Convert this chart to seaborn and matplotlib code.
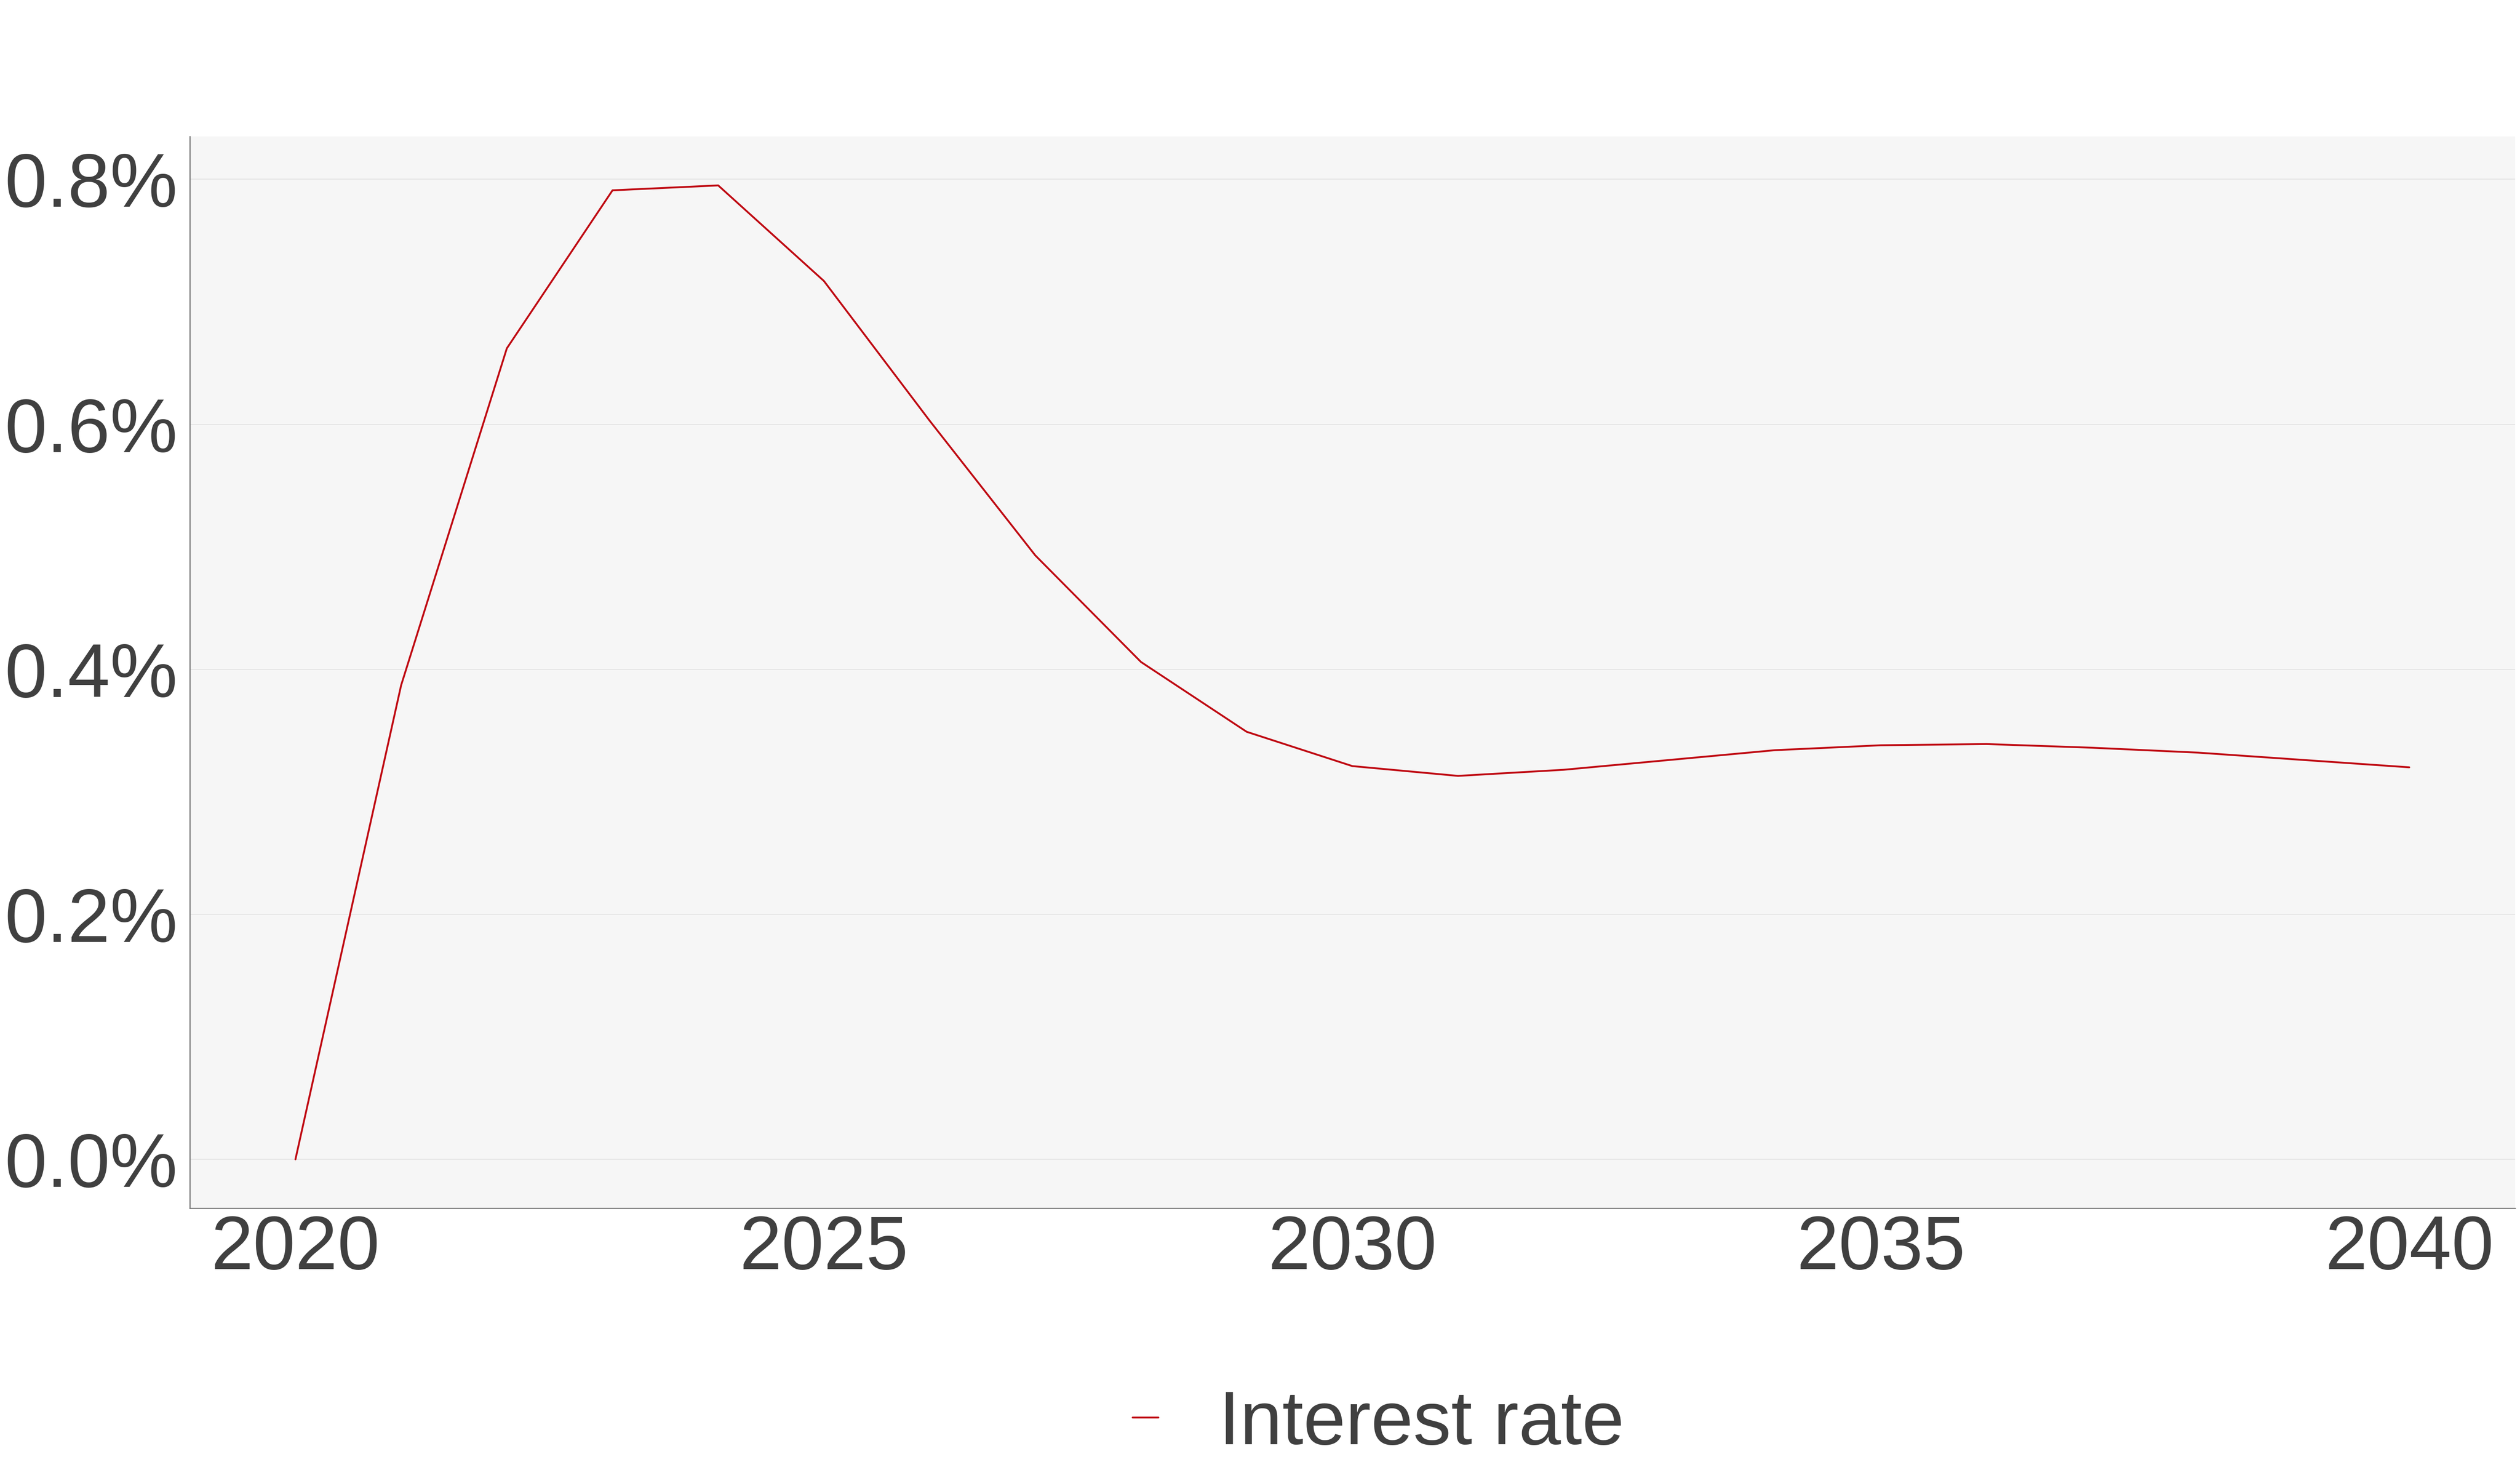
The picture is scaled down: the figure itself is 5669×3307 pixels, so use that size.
import matplotlib
matplotlib.use("Agg")
import matplotlib.pyplot as plt
import matplotlib.ticker as mticker
import seaborn as sns
import pandas as pd

years = list(range(2020, 2041))
interest_rate = [0.0, 0.387, 0.662, 0.791, 0.795, 0.717, 0.603, 0.493, 0.406, 0.349,
                 0.321, 0.313, 0.318, 0.326, 0.334, 0.338, 0.339, 0.336, 0.332, 0.326, 0.320]
y_ticks = [0.0, 0.2, 0.4, 0.6, 0.8]
x_ticks = [2020, 2025, 2030, 2035, 2040]
series_name = "Interest rate"

TEXT = "#404040"
SPINE = "#737373"
RED = "#BF0A12"

sns.set_theme(style="white")
plt.rcParams["font.family"] = ["Liberation Sans", "DejaVu Sans"]

df = pd.DataFrame({"year": years, "rate": interest_rate})

fig = plt.figure(figsize=(5669 / 300, 3307 / 300), dpi=300)
ax = fig.add_axes([0.0753, 0.178, 0.9227, 0.7292])
ax.set_facecolor("#f6f6f6")

sns.lineplot(data=df, x="year", y="rate", ax=ax, color=RED, linewidth=1.0,
             label=series_name)

ax.set_xlim(2019, 2041)
ax.set_ylim(-0.04, 0.835)
ax.set_xticks(x_ticks)
ax.set_yticks(y_ticks)
ax.yaxis.set_major_formatter(mticker.FuncFormatter(lambda v, p: f"{v:.1f}%"))
ax.set_xlabel("")
ax.set_ylabel("")

ax.grid(axis="y", color="#e4e4e4", linewidth=0.5)
ax.grid(axis="x", visible=False)
ax.set_axisbelow(True)

for side in ["top", "right"]:
    ax.spines[side].set_visible(False)
for side in ["left", "bottom"]:
    ax.spines[side].set_color(SPINE)
    ax.spines[side].set_linewidth(0.6)

ax.tick_params(axis="both", direction="in", length=2.5, width=0.8, color=SPINE,
               labelsize=41, labelcolor=TEXT)
ax.tick_params(axis="y", pad=6.5)
ax.tick_params(axis="x", pad=3)

ax.get_legend().remove()
handles, labels = ax.get_legend_handles_labels()
fig.legend(handles, labels, loc="center", bbox_to_anchor=(0.547, 0.031),
           frameon=False, fontsize=41, labelcolor=TEXT, handlelength=0.34,
           handletextpad=0.8)

fig.savefig("out.png", dpi=300, facecolor="white")
